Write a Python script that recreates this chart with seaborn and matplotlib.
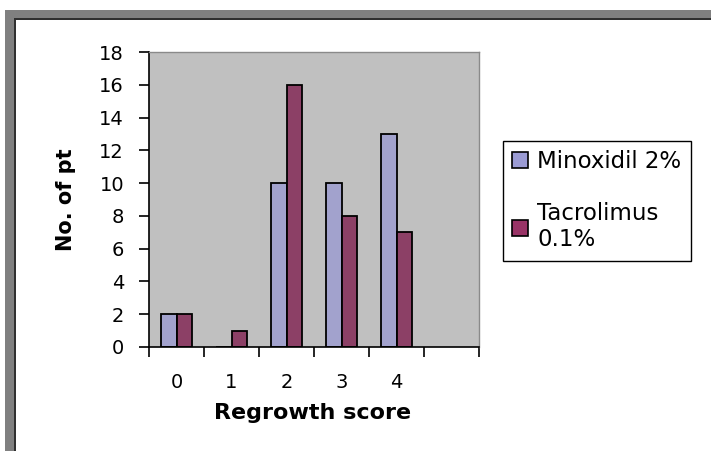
import matplotlib
matplotlib.use("Agg")
import matplotlib.pyplot as plt
from matplotlib.patches import Rectangle, Patch
import numpy as np
import pandas as pd
import seaborn as sns

# Patient counts per regrowth score
scores = ["0", "1", "2", "3", "4"]
minoxidil = [2, 0, 10, 10, 13]
tacrolimus = [2, 1, 16, 8, 7]
series_names = ["Minoxidil 2%", "Tacrolimus\n0.1%"]
y_ticks = list(range(0, 19, 2))

colors = ["#9B9BD4", "#993366"]

df = pd.DataFrame({
    "score": scores * 2,
    "count": minoxidil + tacrolimus,
    "treatment": [series_names[0]] * len(scores) + [series_names[1]] * len(scores),
})

sns.set_theme(style="white")
plt.rcParams["font.family"] = ["DejaVu Sans"]
plt.rcParams.update({
    "text.color": "black",
    "axes.labelcolor": "black",
    "xtick.color": "black",
    "ytick.color": "black",
})

W, H = 711, 451
fig = plt.figure(figsize=(W / 100, H / 100), dpi=100, facecolor="white")


def box(x0, y0, x1, y1):
    """Pixel box (top-left origin) -> figure fraction [left, bottom, width, height]."""
    return [x0 / W, 1 - y1 / H, (x1 - x0) / W, (y1 - y0) / H]


# Picture frame: grey band with a dark inner edge along top and left
for (x0, y0), col in [((5, 10), "#808080"), ((14, 18), "#303030"), ((16, 20), "white")]:
    l, b, w, h = box(x0, y0, W + 5, H + 5)
    fig.add_artist(Rectangle((l, b), w, h, transform=fig.transFigure,
                             facecolor=col, edgecolor="none", zorder=-10))

ax = fig.add_axes(box(149, 52, 479, 347))
sns.barplot(data=df, x="score", y="count", hue="treatment", order=scores,
            hue_order=series_names, palette=colors, width=0.58,
            edgecolor="black", linewidth=1.3, legend=False, ax=ax)

ax.set_facecolor("#C0C0C0")
ax.set_xlim(-0.5, 5.5)
ax.set_ylim(0, 18)

for side in ("left", "bottom"):
    ax.spines[side].set_color("black")
    ax.spines[side].set_linewidth(1.2)
for side in ("top", "right"):
    ax.spines[side].set_color("#8A8A8A")
    ax.spines[side].set_linewidth(1.0)

ax.set_yticks(y_ticks)
ax.set_yticklabels([str(v) for v in y_ticks])
ax.tick_params(axis="y", direction="out", length=7, width=1.2, color="black",
               labelsize=14, labelcolor="black", pad=11, left=True)

ax.set_xticks(range(len(scores)))
ax.set_xticklabels(scores)
ax.set_xticks(np.arange(-0.5, 6.0, 1.0), minor=True)
ax.tick_params(axis="x", which="major", length=0, labelsize=14,
               labelcolor="black", pad=19, bottom=True)
ax.tick_params(axis="x", which="minor", direction="out", length=7, width=1.2,
               color="black", bottom=True)

ax.set_xlabel("Regrowth score", fontsize=16, fontweight="bold", color="black")
ax.xaxis.set_label_coords(0.497, -0.19)
ax.set_ylabel("No. of pt", fontsize=15, fontweight="bold", color="black")
ax.yaxis.set_label_coords(-0.22, 0.5)

handles = [Patch(facecolor=c, edgecolor="black", linewidth=1.2) for c in colors]
leg = fig.legend(handles, series_names, loc="upper left",
                 bbox_to_anchor=(503 / W, 1 - 141 / H), frameon=True,
                 fancybox=False, edgecolor="black", framealpha=1,
                 fontsize=16.5, handlelength=0.7, handleheight=0.7,
                 labelspacing=1.25, borderpad=0.4, handletextpad=0.4,
                 borderaxespad=0)
leg.get_frame().set_linewidth(1.0)
for t in leg.get_texts():
    t.set_color("black")

fig.savefig("out.png", dpi=100, facecolor="white")
